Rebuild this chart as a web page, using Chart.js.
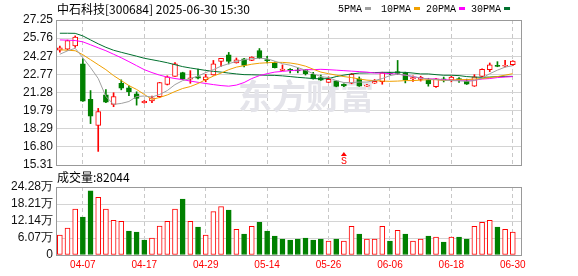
<!DOCTYPE html>
<html>
<head>
<meta charset="utf-8">
<script src="https://cdn.jsdelivr.net/npm/chart.js@4.4.1/dist/chart.umd.min.js"></script>
<style>
body { margin: 0; background: #fff; width: 578px; height: 276px; overflow: hidden; position: relative; }
#kline { position: absolute; left: 0; top: 0; }
#vol { position: absolute; left: 0; top: 170px; }
</style>
</head>
<body>
<canvas id="kline" width="578" height="176"></canvas>
<canvas id="vol" width="578" height="106"></canvas>
<script>
// 中石科技 300684, 2025-04-01 .. 2025-06-30, 60 trading days
const dateLabels = ['04-07', '04-17', '04-29', '05-14', '05-26', '06-06', '06-18', '06-30'];
const dateIdx = [3, 11, 19, 27, 35, 43, 51, 59];

const open  = [24.77,24.85,25.12,23.65,20.71,18.56,21.09,20.30,22.04,21.67,
               21.17,20.45,20.58,20.93,21.94,22.61,22.92,22.38,22.60,22.33,
               22.73,23.84,24.39,23.71,24.06,23.92,24.74,23.97,23.71,23.10,
               23.14,23.12,23.16,22.78,22.51,22.12,22.24,21.95,22.04,22.40,
               21.80,22.04,22.18,22.88,23.00,22.89,22.40,22.36,22.29,21.75,
               22.40,22.30,22.36,22.20,21.80,22.61,23.16,23.49,23.44,23.57];
const close = [24.96,25.55,25.84,20.57,19.34,19.70,20.49,20.95,21.63,21.34,
               20.79,20.55,20.85,22.10,22.57,23.65,22.37,22.48,22.45,22.57,
               23.65,24.09,23.84,23.98,23.51,24.20,24.14,23.90,23.33,23.20,
               23.10,23.05,22.83,22.40,22.29,22.37,21.78,21.82,22.78,21.80,
               21.90,22.20,22.89,22.82,22.85,22.34,22.50,22.53,21.99,22.40,
               22.29,22.55,22.34,21.96,22.57,23.19,23.55,23.43,23.48,23.87];
const high  = [25.10,25.60,25.94,24.06,21.44,19.97,21.53,21.26,22.32,21.83,
               21.34,20.62,20.98,22.12,22.65,23.75,22.95,23.08,23.20,22.78,
               23.92,24.10,24.58,24.12,24.10,24.22,24.90,24.25,23.80,23.55,
               23.25,23.30,23.18,22.94,22.72,22.56,22.26,22.00,22.85,22.56,
               21.95,22.35,22.95,22.95,23.92,22.95,22.65,22.62,22.45,22.45,
               22.55,22.62,22.50,22.38,22.75,23.22,23.71,23.82,23.92,23.90];
const low   = [24.60,24.77,25.00,20.55,18.72,16.43,20.45,20.11,21.50,21.01,
               20.24,20.40,20.44,20.85,21.90,22.60,22.35,22.04,22.40,22.16,
               22.70,23.43,23.63,23.70,23.38,23.90,24.06,23.71,23.30,23.08,
               22.90,22.90,22.72,22.38,22.27,22.10,21.75,21.75,22.00,21.78,
               21.78,22.02,21.96,22.75,22.75,22.07,22.20,22.22,21.80,21.70,
               22.15,22.15,22.12,21.94,21.78,22.58,23.00,23.40,23.38,23.49];

const ma5  = [24.43,24.71,24.92,24.14,23.33,22.43,20.95,20.30,20.38,20.54,
              20.95,20.99,20.91,21.12,21.44,21.93,22.26,22.43,22.63,22.92,
              23.16,23.45,23.65,23.84,23.98,24.06,24.10,24.06,23.86,23.65,
              23.53,23.33,23.12,22.83,22.59,22.51,22.26,22.10,22.10,22.14,
              22.14,22.26,22.43,22.67,22.79,22.71,22.59,22.47,22.39,22.34,
              22.30,22.26,22.24,22.20,22.26,22.47,22.83,23.12,23.37,23.49];
const ma10 = [24.80,24.76,24.72,24.39,23.98,23.57,23.16,22.67,22.26,21.85,
              21.53,21.12,20.71,20.87,21.08,21.36,21.61,21.77,22.02,22.34,
              22.63,22.88,23.16,23.37,23.49,23.61,23.69,23.73,23.76,23.76,
              23.71,23.61,23.45,23.20,22.96,22.83,22.71,22.59,22.51,22.39,
              22.30,22.26,22.22,22.20,22.22,22.26,22.26,22.30,22.34,22.34,
              22.26,22.30,22.34,22.34,22.39,22.43,22.51,22.59,22.71,22.83];
const ma20 = [25.61,25.59,25.56,25.45,25.21,24.96,24.72,24.43,24.14,23.82,
              23.49,23.16,22.92,22.71,22.55,22.43,22.34,22.22,22.12,22.02,
              21.93,21.85,21.80,21.89,22.10,22.43,22.67,22.83,22.96,23.02,
              23.08,23.12,23.16,23.16,23.19,23.16,23.12,23.08,23.04,23.00,
              22.96,22.88,22.88,22.83,22.79,22.71,22.59,22.47,22.40,22.39,
              22.34,22.30,22.29,22.29,22.30,22.39,22.43,22.51,22.55,22.59];
const ma30 = [26.16,26.16,26.15,25.94,25.61,25.29,25.00,24.76,24.59,24.43,
              24.27,24.10,23.98,23.86,23.73,23.57,23.41,23.30,23.20,23.10,
              23.02,22.96,22.88,22.81,22.75,22.74,22.72,22.70,22.69,22.65,
              22.59,22.53,22.48,22.43,22.40,22.43,22.59,22.71,22.81,22.88,
              22.89,22.92,22.94,22.94,22.94,22.94,22.88,22.81,22.81,22.75,
              22.70,22.70,22.67,22.59,22.55,22.53,22.55,22.59,22.61,22.61];

// volume in 万 (10k)
const volume = [7.1,9.6,16.4,13.5,22.9,20.6,16.4,12.4,12.0,8.5,
                8.2,5.3,6.0,10.3,12.0,16.4,20.0,12.0,10.0,7.1,
                15.5,17.3,16.0,9.2,7.5,10.2,11.7,8.5,6.8,5.7,
                5.3,5.7,6.0,5.3,5.7,5.0,5.7,5.0,10.2,7.5,
                5.7,5.7,10.2,5.0,8.8,7.5,5.0,5.7,6.8,6.4,
                4.6,6.4,6.4,5.7,10.2,11.7,12.4,10.0,9.2,8.2044];

const priceTicks = [15.31, 16.80, 18.29, 19.79, 21.28, 22.77, 24.27, 25.76, 27.25];
const volTicks = [0, 6.07, 12.14, 18.21, 24.28];
const volTickText = ['0', '6.07万', '12.14万', '18.21万', '24.28万'];
const signalIdx = 37;

const RED = '#ff0000', GREEN = '#008000';
const maColors = ['#a0a0a0', '#f0a000', '#ff00ff', '#00702e'];
const maNames = ['5PMA', '10PMA', '20PMA', '30PMA'];

const idx = close.map((_, i) => i);
const up = idx.map(i => close[i] >= open[i]);
const volUp = idx.map(i => i === 0 || close[i] >= close[i - 1]);

const xScale = (showLabels) => ({
    type: 'linear',
    offset: false,
    bounds: 'ticks',
    min: -0.5,
    max: 60.2,
    afterBuildTicks: s => { s.ticks = dateIdx.map(v => ({ value: v })); },
    ticks: {
        display: showLabels,
        autoSkip: false,
        maxRotation: 0,
        padding: 4,
        color: RED,
        font: { family: 'Liberation Sans', size: 10 },
        callback: v => dateLabels[dateIdx.indexOf(v)]
    },
    grid: { color: '#c8c8c8', drawTicks: false, offset: false },
    border: { display: false, dash: [4, 3] }
});

const yTicks = fmt => ({
    autoSkip: false,
    color: '#111',
    padding: 3,
    font: { family: 'Liberation Sans', size: 12 },
    callback: fmt
});

const frame = {
    id: 'frame',
    afterDraw(chart) {
        const { ctx, chartArea: a } = chart;
        ctx.save();
        ctx.strokeStyle = '#999';
        ctx.lineWidth = 1;
        ctx.strokeRect(Math.round(a.left) + 0.5, Math.round(a.top) + 0.5,
            Math.round(a.right - a.left) - 1, Math.round(a.bottom - a.top));
        ctx.restore();
    }
};

const watermark = {
    id: 'watermark',
    beforeDatasetsDraw(chart) {
        const ctx = chart.ctx;
        ctx.save();
        ctx.fillStyle = '#e4e4ea';
        ctx.font = 'bold 34px "Noto Sans CJK SC"';
        ctx.textAlign = 'center';
        ctx.textBaseline = 'middle';
        ctx.fillText('东方财富', 306, 96);
        ctx.restore();
    }
};

const header = {
    id: 'header',
    afterDraw(chart) {
        const ctx = chart.ctx;
        ctx.save();
        ctx.textBaseline = 'middle';
        ctx.fillStyle = '#000';
        ctx.font = '12px "Noto Sans CJK SC"';
        ctx.fillText('中石科技[300684] 2025-06-30 15:30', 57, 9);
        ctx.font = '10px "Liberation Mono"';
        let x = 338;
        maNames.forEach((n, k) => {
            ctx.fillStyle = '#000';
            ctx.fillText(n, x, 9);
            const w = ctx.measureText(n).width;
            ctx.fillStyle = maColors[k];
            ctx.fillRect(x + w + 3, 7, 6, 3);
            x += w + 3 + 6 + [10, 6, 6, 0][k];
        });
        // buy/sell signal mark
        const sx = chart.scales.x.getPixelForValue(signalIdx);
        ctx.fillStyle = RED;
        ctx.beginPath();
        ctx.moveTo(sx, 152);
        ctx.lineTo(sx - 3, 156);
        ctx.lineTo(sx + 3, 156);
        ctx.closePath();
        ctx.fill();
        ctx.font = '10px "Liberation Mono"';
        ctx.textAlign = 'center';
        ctx.fillText('S', sx, 161);
        ctx.restore();
    }
};

new Chart(document.getElementById('kline'), {
    data: {
        datasets: [
            ...[ma5, ma10, ma20, ma30].map((m, k) => ({
                type: 'line',
                data: m.map((v, i) => ({ x: i, y: v })),
                borderColor: maColors[k],
                borderWidth: 1,
                pointRadius: 0,
                tension: 0,
                order: 0
            })),
            {
                type: 'bar',
                data: idx.map(i => ({ x: i, y: [open[i], close[i]] })),
                backgroundColor: idx.map(i => up[i] ? '#fff' : GREEN),
                borderColor: idx.map(i => up[i] ? RED : GREEN),
                borderWidth: 1,
                borderSkipped: false,
                barThickness: 5,
                minBarLength: 1,
                grouped: false,
                order: 1
            },
            {
                type: 'bar',
                data: idx.map(i => ({ x: i, y: [low[i], high[i]] })),
                backgroundColor: idx.map(i => up[i] ? RED : GREEN),
                barThickness: 1,
                grouped: false,
                order: 2
            }
        ]
    },
    options: {
        responsive: false,
        animation: false,
        events: [],
        layout: { padding: { top: 20, right: 56, bottom: 11, left: 0 } },
        plugins: { legend: { display: false }, tooltip: { enabled: false } },
        scales: {
            x: xScale(false),
            y: {
                min: 15.31,
                max: 27.25,
                afterBuildTicks: s => { s.ticks = priceTicks.map(v => ({ value: v })); },
                afterFit: s => { s.width = 56; },
                ticks: yTicks(v => v.toFixed(2)),
                grid: { color: '#d4d4d4', drawTicks: false },
                border: { display: false }
            }
        }
    },
    plugins: [watermark, header, frame]
});

const volHeader = {
    id: 'volHeader',
    afterDraw(chart) {
        const ctx = chart.ctx;
        ctx.save();
        ctx.textBaseline = 'middle';
        ctx.fillStyle = '#000';
        ctx.font = '12px "Noto Sans CJK SC"';
        ctx.fillText('成交量:' + Math.round(volume[volume.length - 1] * 10000), 57, 7);
        ctx.restore();
    }
};

new Chart(document.getElementById('vol'), {
    type: 'bar',
    data: {
        datasets: [{
            data: idx.map(i => ({ x: i, y: volume[i] })),
            backgroundColor: idx.map(i => volUp[i] ? '#fff' : GREEN),
            borderColor: idx.map(i => volUp[i] ? RED : GREEN),
            borderWidth: 1,
            borderSkipped: false,
            barThickness: 5,
            grouped: false
        }]
    },
    options: {
        responsive: false,
        animation: false,
        events: [],
        layout: { padding: { top: 17, right: 56, bottom: 0, left: 0 } },
        plugins: { legend: { display: false }, tooltip: { enabled: false } },
        scales: {
            x: Object.assign(xScale(true), { afterFit: s => { s.height = 21; } }),
            y: {
                min: 0,
                max: 24.28,
                afterBuildTicks: s => { s.ticks = volTicks.map(v => ({ value: v })); },
                afterFit: s => { s.width = 56; },
                ticks: yTicks((v, i) => volTickText[i]),
                grid: { color: '#d4d4d4', drawTicks: false },
                border: { display: false }
            }
        }
    },
    plugins: [volHeader, frame]
});
</script>
</body>
</html>
